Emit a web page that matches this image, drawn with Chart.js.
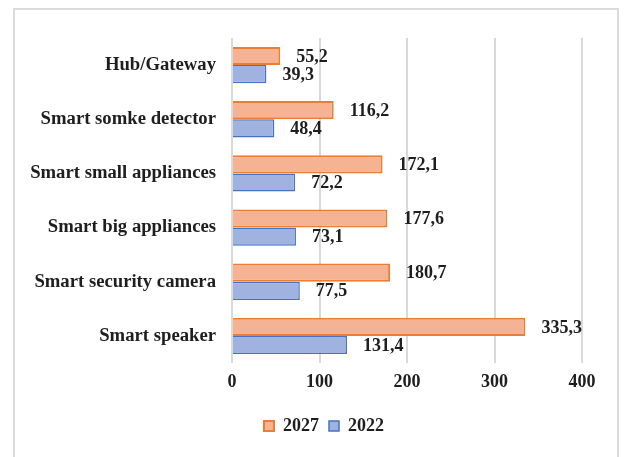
<!DOCTYPE html>
<html>
<head>
<meta charset="utf-8">
<script src="https://cdn.jsdelivr.net/npm/chart.js@4.4.1/dist/chart.umd.min.js"></script>
<style>
  html, body { margin: 0; padding: 0; background: #fff; }
  #wrap { position: relative; width: 624px; height: 457px; overflow: hidden; }
  #frame { position: absolute; left: 13px; top: 8px; width: 602px; height: 470px;
           border: 2px solid #dadada; pointer-events: none; }
</style>
</head>
<body>
<div id="wrap">
  <canvas id="myChart" width="624" height="457"></canvas>
  <div id="frame"></div>
</div>
<script>
// devices, top to bottom
const categories = [
  'Hub/Gateway',
  'Smart somke detector',
  'Smart small appliances',
  'Smart big appliances',
  'Smart security camera',
  'Smart speaker'
];
const values2027 = [55.2, 116.2, 172.1, 177.6, 180.7, 335.3];
const values2022 = [39.3, 48.4, 72.2, 73.1, 77.5, 131.4];
const xTicks = [0, 100, 200, 300, 400];

const serif = "'Liberation Serif', 'Times New Roman', serif";

// simple value labels at the end of each bar
const valueLabels = {
  id: 'valueLabels',
  afterDatasetsDraw(chart) {
    const ctx = chart.ctx;
    ctx.save();
    ctx.font = 'bold 18px ' + serif;
    ctx.fillStyle = '#1e1e1e';
    ctx.textAlign = 'left';
    ctx.textBaseline = 'middle';
    chart.data.datasets.forEach((ds, i) => {
      chart.getDatasetMeta(i).data.forEach((bar, j) => {
        const txt = ds.data[j].toFixed(1).replace('.', ',');
        ctx.fillText(txt, bar.x + 16, bar.y + 1);
      });
    });
    ctx.restore();
  }
};

// nudge the legend right so it sits under the middle of the frame
const legendShift = {
  id: 'legendShift',
  afterLayout(chart) {
    chart.legend.left += 33;
    chart.legend.right += 33;
  }
};

const ctx = document.getElementById('myChart').getContext('2d');
const myChart = new Chart(ctx, {
  type: 'bar',
  data: {
    labels: categories,
    datasets: [{
      label: '2027',
      data: values2027,
      backgroundColor: '#f5b394',
      borderColor: '#ed7d31',
      borderWidth: 2
    }, {
      label: '2022',
      data: values2022,
      backgroundColor: '#a0b2df',
      borderColor: '#4472c4',
      borderWidth: 1.5
    }]
  },
  options: {
    indexAxis: 'y',
    responsive: false,
    animation: false,
    categoryPercentage: 0.67,
    barPercentage: 1,
    layout: { padding: { top: 38, right: 42, left: 0, bottom: 12 } },
    scales: {
      x: {
        min: 0,
        max: 400,
        afterBuildTicks: (s) => { s.ticks = xTicks.map(v => ({ value: v })); },
        afterFit: (s) => { s.height = 44; },
        grid: { color: '#d9d9d9', lineWidth: 2, drawTicks: false },
        border: { display: false },
        ticks: {
          padding: 9,
          color: '#1e1e1e',
          font: { family: serif, size: 18, weight: 'bold' }
        }
      },
      y: {
        afterFit: (s) => { s.width = 232; },
        grid: { display: false, drawTicks: false },
        border: { display: false },
        ticks: {
          padding: 16,
          color: '#1e1e1e',
          font: { family: serif, size: 18.7, weight: 'bold' }
        }
      }
    },
    plugins: {
      tooltip: { enabled: false },
      legend: {
        position: 'bottom',
        labels: {
          boxWidth: 10,
          boxHeight: 10,
          padding: 10,
          color: '#1e1e1e',
          font: { family: serif, size: 18, weight: 'bold' }
        }
      }
    }
  },
  plugins: [valueLabels, legendShift]
});
</script>
</body>
</html>
